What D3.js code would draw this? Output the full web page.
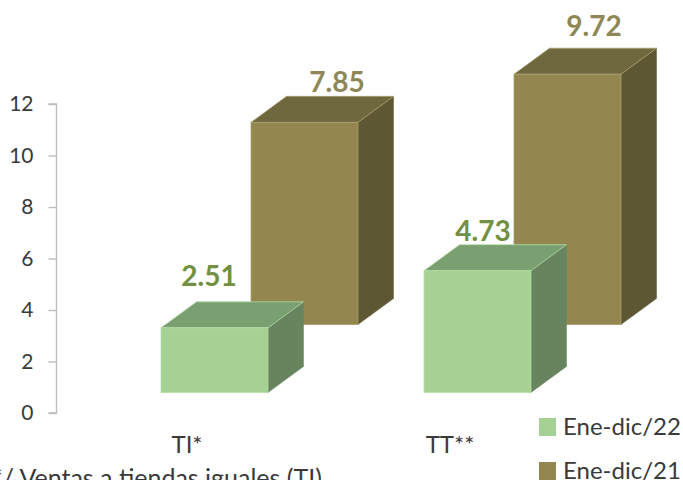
<!DOCTYPE html>
<html>
<head>
<meta charset="utf-8">
<script src="https://d3js.org/d3.v7.min.js"></script>
<style>
html,body{margin:0;padding:0;background:#fff;overflow:hidden}
svg{display:block}
text{font-family:Lato,"Open Sans",sans-serif}
</style>
</head>
<body>
<svg id="c" width="683" height="480"></svg>
<script>
const categories = ["TI*", "TT**"];
const seriesNames = ["Ene-dic/21", "Ene-dic/22"];
const valuesFront = [2.51, 4.73];
const valuesBack = [7.85, 9.72];
const yTicks = [0, 2, 4, 6, 8, 10, 12];
const footnote = "*/ Ventas a tiendas iguales (TI)";

const svg = d3.select("#c");
const y = d3.scaleLinear().domain([0, 12]).range([413, 104]);
const band = d3.scaleBand().domain(categories).range([161, 687]);
const barW = 107, dx = 35.5, dy = 26;
const unit = y(0) - y(1);

// axis
const axis = d3.axisLeft(y).tickValues(yTicks).tickSize(8).tickPadding(15).tickFormat(d3.format("d"));
const gA = svg.append("g").attr("transform", "translate(56.5,0)").call(axis);
gA.selectAll("path,line").attr("stroke", "#bdbdbd").attr("stroke-width", 1.4);
gA.select("path").attr("d", "M-8," + y(12) + "H0V" + y(0) + "H-8");
gA.selectAll("text").attr("font-size", 21).attr("fill", "#3a3a3a").attr("font-family", "Lato");

const series = [
  {name: seriesNames[0], vals: valuesBack, xOff: 90, base: 324.5, front: "#93874F", top: "#6F673D", side: "#5E5733", edge: "#A8A06C", label: "#8F8656",
   labelDx: [86, 80], labelDy: [30, 38]},
  {name: seriesNames[1], vals: valuesFront, xOff: 0, base: 392.5, front: "#A6D194", top: "#7A9F70", side: "#67845E", edge: "#B4DCA4", label: "#72903F",
   labelDx: [48, 59], labelDy: [42, 30]}
];

series.forEach(s => {
  const g = svg.append("g");
  const bars = g.selectAll("g").data(s.vals).join("g");
  const X = (d, i) => band(categories[i]) + s.xOff;
  const T = d => s.base - d * unit;
  bars.append("path").attr("fill", s.side).attr("stroke", s.side).attr("stroke-width", 0.5)
    .attr("d", (d, i) => { const x = X(d, i) + barW, t = T(d);
      return `M${x},${t}L${x + dx},${t - dy}V${s.base - dy}L${x},${s.base}Z`; });
  bars.append("path").attr("fill", s.top).attr("stroke", s.edge).attr("stroke-width", 0.8)
    .attr("d", (d, i) => { const x = X(d, i), t = T(d);
      return `M${x},${t}L${x + dx},${t - dy}H${x + dx + barW}L${x + barW},${t}Z`; });
  bars.append("rect").attr("fill", s.front).attr("stroke", s.edge).attr("stroke-width", 0.8)
    .attr("x", (d, i) => X(d, i)).attr("y", d => T(d))
    .attr("width", barW).attr("height", d => d * unit);
  bars.append("text").text(d => d3.format(".2f")(d))
    .attr("x", (d, i) => X(d, i) + s.labelDx[i])
    .attr("y", (d, i) => T(d) - s.labelDy[i])
    .attr("text-anchor", "middle").attr("font-size", 28).attr("font-weight", 700)
    .attr("fill", s.label);
});

// category labels
svg.selectAll("text.cat").data(categories).join("text").attr("class", "cat")
  .text(d => d).attr("x", (d, i) => [187, 450][i]).attr("y", 453)
  .attr("text-anchor", "middle").attr("font-size", 24).attr("fill", "#3a3a3a");

// footnote (cut by the picture's edge, as in the reference)
svg.append("text").text(footnote).attr("x", -8).attr("y", 487)
  .attr("font-size", 25).attr("fill", "#3a3a3a");

// legend
const legend = svg.selectAll("g.lg").data([series[1], series[0]]).join("g").attr("class", "lg")
  .attr("transform", (d, i) => `translate(539,${418 + i * 44})`);
legend.append("rect").attr("width", 17).attr("height", 18).attr("fill", d => d.front);
legend.append("text").text(d => d.name).attr("x", 24).attr("y", 17)
  .attr("font-size", 24).attr("fill", "#3a3a3a");
</script>
</body>
</html>
